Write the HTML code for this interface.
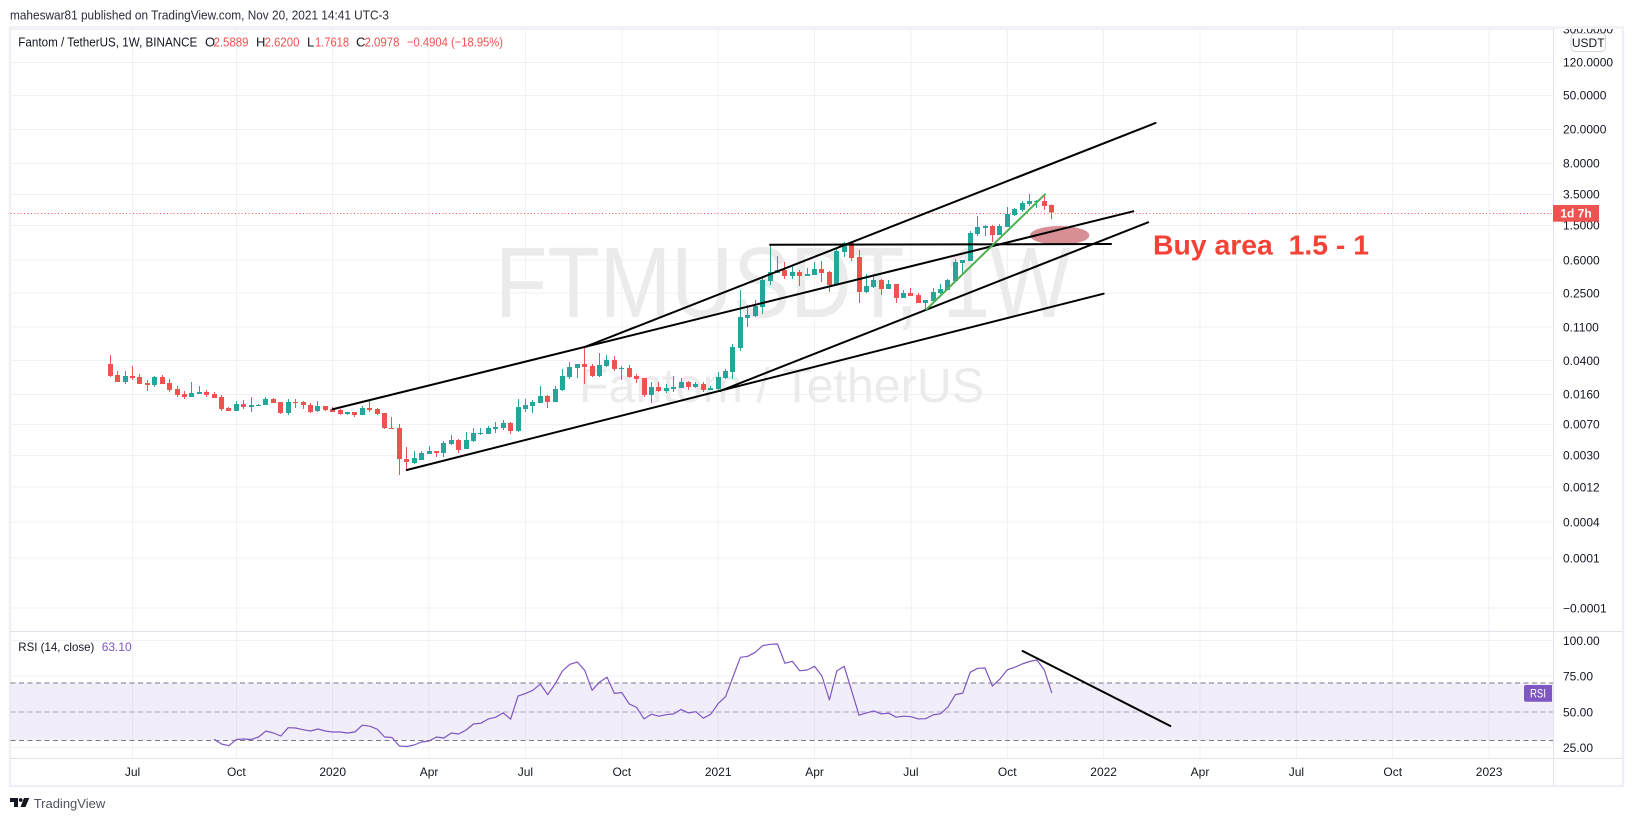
<!DOCTYPE html>
<html lang="en">
<head>
<meta charset="utf-8">
<title>Fantom / TetherUS weekly chart</title>
<style>
html,body{margin:0;padding:0;background:#fff;width:1633px;height:821px;overflow:hidden}
svg{display:block;font-family:"Liberation Sans",sans-serif}
</style>
</head>
<body>
<svg id="chart" xmlns="http://www.w3.org/2000/svg" width="1633" height="821" viewBox="0 0 1633 821">
  <defs><clipPath id="axis-clip"><rect x="1554" y="29" width="68" height="760"/></clipPath></defs>
  <text x="10" y="19.5" font-size="13" fill="#2a2e39" textLength="379" lengthAdjust="spacingAndGlyphs">maheswar81 published on TradingView.com, Nov 20, 2021 14:41 UTC-3</text>
  <rect x="10" y="27.5" width="1613" height="758.5" fill="#fff" stroke="#eff0f6" stroke-width="2.4"/>
  <g id="grid" shape-rendering="crispEdges"></g>
  <text x="495" y="317" font-size="100" fill="#ebebeb" textLength="576" lengthAdjust="spacingAndGlyphs">FTMUSDT, 1W</text>
  <text x="579" y="402" font-size="48" fill="#ebebeb" textLength="405" lengthAdjust="spacingAndGlyphs">Fantom / TetherUS</text>
  <g id="rsi-band-layer" shape-rendering="crispEdges"></g>
  <g id="price-line-layer" shape-rendering="crispEdges"></g>
  <g id="candles" shape-rendering="crispEdges"></g>
  <g id="drawings"></g>
  <polyline id="rsi-line" fill="none" stroke="#7e57c2" stroke-width="1.2" stroke-linejoin="round"/>
  <text x="1153" y="254.5" font-size="28" font-weight="bold" fill="#f44336" xml:space="preserve" textLength="216" lengthAdjust="spacingAndGlyphs">Buy area  1.5 - 1</text>

  <g stroke="#e0e3eb" stroke-width="1" shape-rendering="crispEdges">
    <line x1="1553.5" y1="28" x2="1553.5" y2="785"/>
    <line x1="10" y1="631.5" x2="1622" y2="631.5"/>
    <line x1="10" y1="758.5" x2="1622" y2="758.5"/>
  </g>
  <g id="axis-labels" font-size="12" fill="#131722" clip-path="url(#axis-clip)"></g>
  <g id="time-labels" font-size="12" fill="#131722"></g>

  <g font-size="13">
    <text x="18.3" y="46.5" fill="#131722" textLength="179" lengthAdjust="spacingAndGlyphs">Fantom / TetherUS, 1W, BINANCE</text>
    <text x="205" y="46.5" fill="#131722">O</text>
    <text x="213.5" y="46.5" fill="#ef5350" textLength="35" lengthAdjust="spacingAndGlyphs">2.5889</text>
    <text x="256" y="46.5" fill="#131722">H</text>
    <text x="264.5" y="46.5" fill="#ef5350" textLength="35" lengthAdjust="spacingAndGlyphs">2.6200</text>
    <text x="307" y="46.5" fill="#131722">L</text>
    <text x="315" y="46.5" fill="#ef5350" textLength="34" lengthAdjust="spacingAndGlyphs">1.7618</text>
    <text x="356" y="46.5" fill="#131722">C</text>
    <text x="364.5" y="46.5" fill="#ef5350" textLength="35" lengthAdjust="spacingAndGlyphs">2.0978</text>
    <text x="407" y="46.5" fill="#ef5350" textLength="96" lengthAdjust="spacingAndGlyphs">−0.4904 (−18.95%)</text>
  </g>
  <g font-size="12">
    <text x="18.3" y="651" fill="#131722" textLength="76" lengthAdjust="spacingAndGlyphs">RSI (14, close)</text>
    <text x="101.7" y="651" fill="#7e57c2">63.10</text>
  </g>

  <rect x="1571" y="33.5" width="34.5" height="18" rx="4" fill="#fff" stroke="#d1d4dc"/>
  <text x="1588.2" y="47" font-size="12" fill="#131722" text-anchor="middle">USDT</text>
  <rect x="1553" y="205" width="46" height="16.7" fill="#ef5350"/>
  <text x="1576" y="217.5" font-size="12" font-weight="bold" fill="#fff" text-anchor="middle">1d 7h</text>
  <path d="M1526 685H1552V701.7H1526a2 2 0 0 1-2-2V687a2 2 0 0 1 2-2Z" fill="#7e57c2"/>
  <text x="1538" y="697.5" font-size="12" fill="#fff" text-anchor="middle" textLength="16" lengthAdjust="spacingAndGlyphs">RSI</text>

  <g>
    <path d="M10 798H18V807H14V802H10ZM24 798H29.3L25.5 807H20.5Z" fill="#131722"/>
    <circle cx="20.7" cy="800" r="1.9" fill="#131722"/>
    <text x="33.7" y="808" font-size="13" fill="#50535e">TradingView</text>
  </g>
</svg>
<script>
const opens = [
.0348,.0258,.0214,.0251,.0245,.0208,.0197,.0245,.0208,.0177,
.0154,.0142,.0154,.0163,.0154,.0142,.0106,.00972,.0118,.0109,
.0111,.0115,.0135,.0124,.00921,.0124,.0124,.0115,.00972,.0111,
.0103,.0100,.00896,.00946,.00872,.0106,.0103,.00921,.00614,.00614,
.00265,.00238,.00258,.00304,.00329,.00312,.00398,.00444,.00348,.00432,
.00522,.00522,.00597,.00614,.00703,.00566,.0103,.0111,.0121,.0146,
.0124,.0172,.0245,.0312,.0348,.0329,.0251,.0329,.0387,.0304,
.0312,.0251,.0238,.0150,.0187,.0167,.0177,.0181,.0214,.0187,
.0202,.0172,.0177,.0238,.0280,.0536,.1209,.1276,.1628,.3293,
.4089,.4435,.377,.4201,.377,.3873,.4557,.4201,.2955,.7219,
.921,.6305,.2445,.2799,.3383,.2651,.3036,.2078,.2379,.2254,
.1815,.1916,.2379,.2581,.3293,.536,.5658,1.177,1.384,1.461,
1.145,1.422,1.969,2.254,2.651,2.799,2.876,2.5889];
const highs = [
.0444,.0288,.0288,.0329,.0265,.0225,.0251,.0258,.0232,.0192,
.0167,.0214,.0192,.0172,.0163,.0150,.0109,.0128,.0131,.0142,
.0118,.0142,.0138,.0124,.0135,.0135,.0128,.0121,.0128,.0111,
.0109,.0103,.00946,.00946,.0111,.0128,.0106,.00921,.00827,.00684,
.00367,.00329,.00329,.00377,.00329,.00432,.00508,.00456,.00551,.00614,
.00614,.00648,.00722,.00762,.00722,.0135,.0135,.0131,.0192,.0150,
.0192,.0304,.0367,.0348,.0551,.0348,.0468,.0444,.0432,.0329,
.0338,.0265,.0238,.0214,.0214,.0202,.0251,.0238,.0219,.0214,
.0214,.0192,.0280,.0304,.0597,.2581,.1719,.1969,.377,.872,
.6478,.5507,.4942,.4435,.4682,.5507,.5658,.4317,.804,.946,
.946,.762,.398,.398,.3476,.3383,.3036,.2581,.2724,.2379,
.1969,.2724,.3036,.3476,.5973,.5814,1.276,1.916,1.501,1.501,
1.542,2.445,2.379,2.876,3.476,2.955,3.293,2.62];
const lows = [
.0245,.0214,.0202,.0225,.0202,.0167,.0187,.0202,.0163,.0142,
.0135,.0142,.0154,.0142,.0138,.00972,.00972,.00972,.0103,.00946,
.0111,.0115,.0121,.00896,.00872,.0106,.0103,.00921,.00946,.00972,
.00946,.00872,.00872,.00827,.00872,.00946,.00872,.00597,.00597,.00172,
.00197,.00232,.00258,.00304,.00280,.00280,.00387,.00312,.00348,.00420,
.00508,.00522,.00536,.00581,.00522,.00551,.00946,.00921,.0121,.0106,
.0124,.0167,.0232,.0238,.0202,.0245,.0245,.0321,.0288,.0225,
.0238,.0208,.0142,.0121,.0163,.0158,.0163,.0181,.0172,.0181,
.0163,.0172,.0172,.0232,.0232,.0494,.0946,.1242,.1347,.2955,
.4089,.3476,.3476,.2876,.377,.3873,.3205,.2445,.2876,.6305,
.5658,.1815,.2379,.2724,.2254,.2651,.1815,.2078,.2194,.1815,
.1501,.1916,.2316,.2581,.3293,.398,.5658,1.115,1.115,.946,
1.145,1.422,1.916,2.135,2.512,2.379,2.254,1.7618];
const closes = [
.0251,.0214,.0251,.0238,.0202,.0197,.0245,.0202,.0172,.0150,
.0142,.0158,.0163,.0150,.0138,.0103,.00972,.0118,.0109,.0115,
.0115,.0135,.0121,.00921,.0124,.0121,.0115,.00946,.0111,.0100,
.00946,.00896,.00946,.00872,.0106,.0100,.00896,.00614,.00597,.00265,
.00245,.00272,.00312,.00329,.00312,.00409,.00444,.00338,.00444,.00536,
.00536,.00614,.00631,.00703,.00566,.0109,.0115,.0124,.0146,.0124,
.0177,.0251,.0321,.0348,.0321,.0251,.0338,.0387,.0304,.0312,
.0245,.0232,.0150,.0187,.0167,.0181,.0187,.0214,.0187,.0202,
.0172,.0181,.0245,.0288,.0551,.1242,.1311,.1673,.3383,.4201,
.4435,.377,.4201,.377,.398,.4557,.4089,.2955,.7417,.921,
.6137,.2445,.2876,.3383,.2651,.3036,.2078,.2379,.2194,.1815,
.1969,.2445,.2651,.3383,.5507,.5814,1.209,1.422,1.461,1.145,
1.461,2.023,2.316,2.724,2.876,2.876,2.512,2.0978];

const rsiFirstWeek = 14;
const rsiValues = [
30.8,27.5,26.3,30.6,31,30.6,32.4,36.6,35.2,33.1,
38.9,38.7,37.5,36.6,38,36.6,35.9,35.9,35.2,35.9,
40.6,39.9,37.8,32.4,32,26.1,25.7,26.8,28.9,29.6,
32.4,31.7,35.2,34.5,37.3,41.5,42,45,46.2,49.2,
44.8,61,62.7,65,69.4,62,69.4,78.7,83.2,84.8,
79,65,70.8,74.3,62.9,63.4,55.5,53.1,45,48.3,
46.9,48,48.5,51.7,49.2,50.1,45.5,48.3,55.7,60.6,
74.5,88.1,88.8,91.6,96.2,97.2,97.4,83.9,85.3,78.7,
79.2,81.8,75,58.3,78.5,81.8,64.8,47.6,49.2,50.6,
48.5,49,46.2,46.9,46.6,45,45.2,47.8,48.7,53.4,
62,63.1,77.6,80.4,80.6,68,72.9,79.4,81.1,83.4,
85.2,86.2,79.2,63.1];

const priceTickLabels = ['300.0000','120.0000','50.0000','20.0000','8.0000','3.5000','1.5000','0.6000','0.2500','0.1100','0.0400','0.0160','0.0070','0.0030','0.0012','0.0004','0.0001','−0.0001'];
const priceTickScaleValues = [300,123.2,50.4,20.06,7.99,3.45,1.489,.5817,.2379,.0947,.038,.01531,.00679,.00293,.001242,.000481,.0001815,.0000469];
const rsiTickLabels = ['100.00','75.00','50.00','25.00'];
const rsiTickValues = [100,75,50,25];
const rsiBandLevels = [70,50,30];
const timeTickLabels = ['Jul','Oct','2020','Apr','Jul','Oct','2021','Apr','Jul','Oct','2022','Apr','Jul','Oct','2023'];
const timeTickWeeks = [3,17,30,43,56,69,82,95,108,121,134,147,160,173,186];

const channelLineA = [[30,.0102],[138,2.176]];
const channelLineB = [[64,.0551],[141,23.8]];
const supportLineA = [[40,.00197],[134,.2334]];
const supportLineB = [[82.25,.01673],[140,1.615]];
const resistanceLine = [[89,.88],[135,.897]];
const greenTrendLine = [[110.1,.153],[126.1,3.45]];
const rsiTrendLine = [[123.07,92.5],[143,40.1]];
const buyAreaWeeks = [124.07,132.07];
const buyAreaPrices = [1.461,.88];

const NS = 'http://www.w3.org/2000/svg';
function xWeek(w){ return 110.3 + 7.413 * w; }
function yPrice(v){ return 240 - 85 * Math.log10(v); }
function yRsi(v){ return 640.3 + (100 - v) * 1.43; }
function make(tag, attrs, parent){
  const el = document.createElementNS(NS, tag);
  for (const k in attrs) el.setAttribute(k, attrs[k]);
  parent.appendChild(el);
  return el;
}

const grid = document.getElementById('grid');
const axisLabels = document.getElementById('axis-labels');
const timeLabels = document.getElementById('time-labels');
const GRID = '#f0f1f5';
const PANE_LEFT = 10.5, PANE_RIGHT = 1553;

priceTickScaleValues.forEach(function(v, i){
  const y = yPrice(v);
  const line = make('line', {x1:PANE_LEFT, x2:PANE_RIGHT, y1:y, y2:y, stroke:GRID}, grid);
  
  
  const label = make('text', {x:1563, y:y + 4.3}, axisLabels);
  
  
  label.textContent = priceTickLabels[i];
});
rsiTickValues.forEach(function(v, i){
  const y = yRsi(v);
  const line = make('line', {x1:PANE_LEFT, x2:PANE_RIGHT, y1:y, y2:y, stroke:GRID}, grid);
  
  
  const label = make('text', {x:1563, y:y + 4.5}, axisLabels);
  
  
  label.textContent = rsiTickLabels[i];
});
timeTickWeeks.forEach(function(w, i){
  const x = xWeek(w);
  const line = make('line', {x1:x, x2:x, y1:29, y2:758, stroke:GRID}, grid);
  
  
  const label = make('text', {x:x, y:776, 'text-anchor':'middle'}, timeLabels);
  
  
  label.textContent = timeTickLabels[i];
});

const bandLayer = document.getElementById('rsi-band-layer');
const band = make('rect', {x:PANE_LEFT, width:PANE_RIGHT - PANE_LEFT, y:yRsi(rsiBandLevels[0]), height:yRsi(rsiBandLevels[2]) - yRsi(rsiBandLevels[0]), fill:'#7e57c2', 'fill-opacity':.1}, bandLayer);


rsiBandLevels.forEach(function(v, i){
  const line = make('line', {x1:PANE_LEFT, x2:PANE_RIGHT, y1:yRsi(v), y2:yRsi(v), stroke:i === 1 ? '#a89fbe' : '#787b86', 'stroke-dasharray':'5 3.5'}, bandLayer);
  
  
});

const priceLineLayer = document.getElementById('price-line-layer');
const lastClose = closes[closes.length - 1];
const lastCloseY = Math.round(yPrice(lastClose)) + .5;
const priceLine = make('line', {x1:PANE_LEFT, x2:PANE_RIGHT, y1:lastCloseY, y2:lastCloseY, stroke:'#ef5350', 'stroke-dasharray':'1 2.4'}, priceLineLayer);



const candleLayer = document.getElementById('candles');
closes.forEach(function(c, i){
  const up = c >= opens[i];
  const color = up ? '#26a69a' : '#ef5350';
  const px = Math.floor(xWeek(i));
  const wick = make('rect', {x:px, width:1, y:yPrice(highs[i]), height:yPrice(lows[i]) - yPrice(highs[i]), fill:color}, candleLayer);
  
  
  const top = yPrice(Math.max(c, opens[i]));
  const bottom = yPrice(Math.min(c, opens[i]));
  const body = make('rect', {x:px - 2, width:5, y:top, height:Math.max(bottom - top, 1), fill:color}, candleLayer);
  
  
});

const drawings = document.getElementById('drawings');
const buyArea = make('ellipse', {
  cx:(xWeek(buyAreaWeeks[0]) + xWeek(buyAreaWeeks[1])) / 2,
  cy:(yPrice(buyAreaPrices[0]) + yPrice(buyAreaPrices[1])) / 2,
  rx:(xWeek(buyAreaWeeks[1]) - xWeek(buyAreaWeeks[0])) / 2,
  ry:(yPrice(buyAreaPrices[1]) - yPrice(buyAreaPrices[0])) / 2,
  fill:'#b22833', 'fill-opacity':.52}, drawings);



function priceTrend(points, name, color){
  const line = make('line', {x1:xWeek(points[0][0]), y1:yPrice(points[0][1]), x2:xWeek(points[1][0]), y2:yPrice(points[1][1]), stroke:color, 'stroke-width':2, 'stroke-linecap':'round'}, drawings);
  
  
}
priceTrend(channelLineA, 'channel-line-a', '#000');
priceTrend(channelLineB, 'channel-line-b', '#000');
priceTrend(supportLineA, 'support-line-a', '#000');
priceTrend(supportLineB, 'support-line-b', '#000');
priceTrend(resistanceLine, 'resistance-line', '#000');
priceTrend(greenTrendLine, 'green-trend-line', '#4caf50');
const rsiTrend = make('line', {x1:xWeek(rsiTrendLine[0][0]), y1:yRsi(rsiTrendLine[0][1]), x2:xWeek(rsiTrendLine[1][0]), y2:yRsi(rsiTrendLine[1][1]), stroke:'#000', 'stroke-width':2, 'stroke-linecap':'round'}, drawings);



document.getElementById('rsi-line').setAttribute('points', rsiValues.map(function(v, i){
  return xWeek(rsiFirstWeek + i).toFixed(1) + ',' + yRsi(v).toFixed(1);
}).join(' '));
</script>
</body>
</html>
